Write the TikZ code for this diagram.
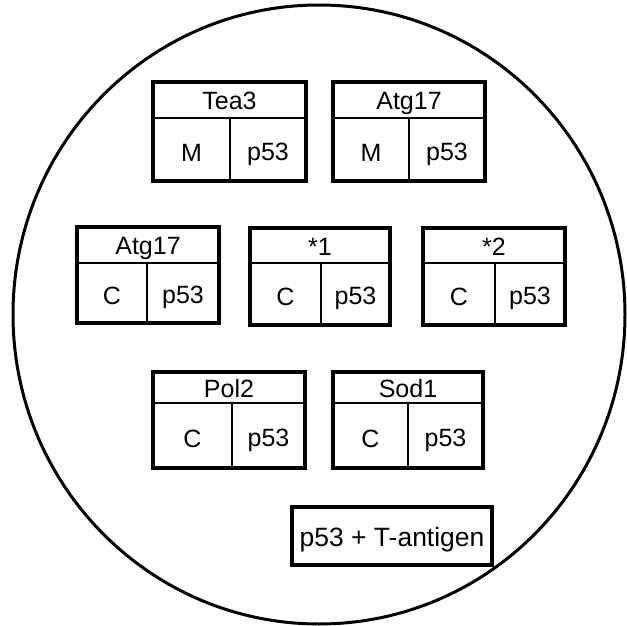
\documentclass[tikz,border=0pt]{standalone}
\usepackage{fontspec}
\setmainfont{Liberation Sans}
\newcommand{\gbox}[9]{%
  \draw[innerline] (#2,#6) -- (#4,#6);
  \draw[innerline] (#7,#6) -- (#7,#5);
  \draw[outerline] (#2,#3) rectangle (#4,#5);
  \node[lbl] (#1-t) at ({(#2+#4)/2},{(#3+#6)/2+1}) {#8};
  \node[lbl] (#1-l) at ({(#2+#7)/2},{(#6+#5)/2+3}) {#9};
  \node[lbl] (#1-r) at ({(#7+#4)/2},{(#6+#5)/2+2}) {p53};
}
\begin{document}
\begin{tikzpicture}[x=1pt,y=-1pt,
  outerline/.style={line width=3.5pt},
  innerline/.style={line width=1.8pt},
  lbl/.style={inner sep=0pt, text height=17.5pt, text depth=0pt, font=\fontsize{25}{25}\selectfont},
  plate/.style={line width=3pt}]
\useasboundingbox (0,0) rectangle (627,626);
\draw[plate] (319,314.5) ellipse [x radius=306, y radius=309.5];
\gbox{tea}{153}{82}{306}{181}{118}{230}{Tea3}{M}
\gbox{atgm}{333}{82}{485}{181}{118}{409}{Atg17}{M}
\gbox{atgc}{77}{227}{219}{323}{263}{147}{Atg17}{C}
\gbox{s1}{250}{228}{390}{325}{263}{321}{*1}{C}
\gbox{s2}{423}{228}{565}{325}{263}{495}{*2}{C}
\gbox{pol}{153}{372}{305}{468}{403}{232}{Pol2}{C}
\gbox{sod}{333}{372}{483}{468}{403}{408}{Sod1}{C}
\draw[outerline] (292,507) rectangle (492,565);
\node[lbl, text height=19pt, font=\fontsize{26.5}{26.5}\selectfont] (tag) at (392,537) {p53 + T-antigen};
\end{tikzpicture}
\end{document}
